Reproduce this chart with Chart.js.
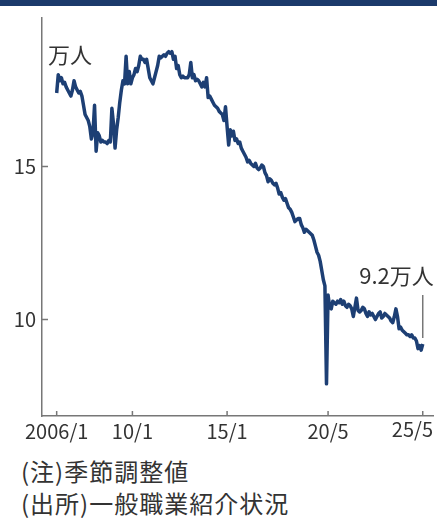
<!DOCTYPE html>
<html>
<head>
<meta charset="utf-8">
<script src="https://cdn.jsdelivr.net/npm/chart.js@4"></script>
<style>
  body { margin: 0; width: 437px; height: 519px; overflow: hidden; background: #fff; position: relative;
         font-family: 'Noto Sans CJK JP', sans-serif; color: #333; }
  #topbar { position: absolute; left: 0; top: 0; width: 437px; height: 6px; background: #1b3a6b; }
  #wrap { position: absolute; left: 0; top: 0; }
  .note { position: absolute; left: 21px; font-size: 24px; line-height: 28px; letter-spacing: 1px; white-space: nowrap; }
</style>
</head>
<body>
<div id="wrap"><canvas id="jobChart" width="452" height="452"></canvas></div>
<div id="topbar"></div>
<div class="note" style="top:457px">(注)季節調整値</div>
<div class="note" style="top:489px">(出所)一般職業紹介状況</div>
<script>
// monthly values, 万人, starting 2006/1
const values2006to2010 = [
  17.4, 18.0, 17.8, 17.9, 17.7, 17.75, 17.6, 17.5, 17.4, 17.3, 17.5, 17.8,
  17.6, 17.5, 17.4, 17.45, 17.3, 17.0, 16.7, 16.6, 16.5, 16.3, 15.9, 16.1,
  17.0, 15.5, 16.1, 16.0, 15.8, 15.85, 15.8, 15.8, 15.75, 15.85, 15.8, 16.9,
  16.4, 15.6, 16.2, 16.6, 17.1, 17.5, 17.8, 17.7, 18.6, 17.7, 18.1, 17.7,
  17.9, 18.0, 18.2, 18.1, 18.3, 18.6, 18.5, 18.5, 18.4, 18.5, 18.2, 17.9
];
const values2011to2015 = [
  17.8, 17.7, 17.9, 18.1, 18.3, 18.6, 18.55, 18.6, 18.65, 18.6, 18.7, 18.75,
  18.7, 18.75, 18.5, 18.6, 18.2, 18.3, 18.0, 17.9, 17.95, 17.9, 17.9, 17.9,
  18.0, 18.4, 17.9, 18.0, 17.8, 17.85, 17.8, 17.7, 17.6, 17.75, 17.6, 17.9,
  17.25, 17.3, 17.2, 17.1, 17.0, 16.95, 16.9, 16.8, 16.75, 16.7, 16.5, 16.95,
  16.3, 15.7, 16.2, 16.0, 16.15, 15.85, 15.9, 15.75, 15.8, 15.6, 15.5, 15.4
];
const values2016to2020 = [
  15.3, 15.15, 15.2, 15.1, 15.05, 15.0, 15.1, 14.95, 14.9, 14.95, 15.05, 15.0,
  14.8, 14.7, 14.5, 14.6, 14.55, 14.45, 14.4, 14.45, 14.3, 14.1, 14.15, 14.0,
  13.9, 13.95, 13.8, 13.65, 13.6, 13.5, 13.35, 13.2, 13.25, 13.3, 13.3, 13.1,
  13.0, 12.85, 12.95, 12.9, 12.85, 12.8, 12.75, 12.6, 12.4, 12.2, 12.1, 11.9,
  11.6, 11.3, 11.1, 7.9, 10.8, 10.4, 10.35, 10.6, 10.55, 10.5, 10.6, 10.55
];
const values2021to2025 = [
  10.65, 10.5, 10.6, 10.45, 10.4, 10.5, 10.45, 10.35, 10.1, 10.4, 10.7, 10.3,
  10.25, 10.3, 10.4, 10.35, 10.2, 10.1, 10.25, 10.15, 10.2, 10.1, 10.0, 10.1,
  10.2, 10.25, 10.05, 10.1, 10.2, 10.15, 10.1, 10.05, 9.95, 9.9, 10.1, 10.35,
  10.1, 9.7, 9.75, 9.65, 9.6, 9.55, 9.5, 9.5, 9.45, 9.5, 9.4, 9.4,
  9.3, 9.05, 9.15, 9.0, 9.2
];

const tickMonths = [0, 48, 108, 172, 232];
const tickLabels = ['2006/1', '10/1', '15/1', '20/5', '25/5'];
const yTickValues = [10, 15];
const unitLabel = '万人';
const lastLabel = '9.2万人';

const allValues = values2006to2010.concat(values2011to2015, values2016to2020, values2021to2025);
const points = allValues.map((v, i) => ({ x: i, y: v }));

const font = { family: "'Noto Sans CJK JP', sans-serif", size: 20 };

// ticks drawn inside the axes, the last x label pulled in, and the two text labels
const extras = {
  id: 'extras',
  afterDraw(chart) {
    const { ctx, chartArea, scales: { x, y } } = chart;
    ctx.save();
    ctx.strokeStyle = '#777';
    ctx.lineWidth = 1.5;
    ctx.beginPath();
    tickMonths.forEach(m => {
      const px = x.getPixelForValue(m);
      ctx.moveTo(px, chartArea.bottom);
      ctx.lineTo(px, chartArea.bottom - 5);
    });
    yTickValues.forEach(v => {
      const py = y.getPixelForValue(v);
      ctx.moveTo(chartArea.left, py);
      ctx.lineTo(chartArea.left + 6, py);
    });
    // leader to the last point
    const lastX = x.getPixelForValue(allValues.length - 1);
    ctx.moveTo(lastX, y.getPixelForValue(10.8));
    ctx.lineTo(lastX, y.getPixelForValue(9.4));
    ctx.stroke();

    ctx.fillStyle = '#333';
    ctx.textBaseline = 'top';
    ctx.textAlign = 'right';
    ctx.font = "20px 'Noto Sans CJK JP', sans-serif";
    ctx.fillText(tickLabels[tickLabels.length - 1], chartArea.right, x.top + 3);

    ctx.font = "22px 'Noto Sans CJK JP', sans-serif";
    ctx.textBaseline = 'middle';
    ctx.textAlign = 'left';
    ctx.fillText(unitLabel, chartArea.left + 6, chartArea.top + 37);
    ctx.textAlign = 'right';
    ctx.fillText(lastLabel, lastX + 11, y.getPixelForValue(11.45));
    ctx.restore();
  }
};

new Chart(document.getElementById('jobChart'), {
  type: 'line',
  data: {
    datasets: [{
      data: points,
      borderColor: '#1d3f74',
      borderWidth: 3.5,
      borderJoinStyle: 'round',
      pointRadius: 0,
      tension: 0,
      fill: false
    }]
  },
  options: {
    responsive: false,
    animation: false,
    layout: { padding: { top: 13, right: 19, left: 0, bottom: 0 } },
    plugins: { legend: { display: false }, tooltip: { enabled: false } },
    scales: {
      x: {
        type: 'linear',
        min: -9.3,
        max: 238.5,
        afterBuildTicks: s => { s.ticks = tickMonths.map(v => ({ value: v })); },
        afterFit: s => { s.height = 36; },
        grid: { display: false, drawTicks: false },
        border: { display: true, color: '#777', width: 1.5 },
        ticks: {
          autoSkip: false,
          maxRotation: 0,
          padding: 3,
          color: '#333',
          font: font,
          // last label is drawn by the plugin, right-aligned to the axis end
          callback: v => (v === tickMonths[tickMonths.length - 1] ? '' : tickLabels[tickMonths.indexOf(v)])
        }
      },
      y: {
        min: 6.85,
        max: 19.85,
        afterBuildTicks: s => { s.ticks = yTickValues.map(v => ({ value: v })); },
        afterFit: s => { s.width = 42; },
        grid: { display: false, drawTicks: false },
        border: { display: true, color: '#777', width: 1.5 },
        ticks: { padding: 6, color: '#333', font: font }
      }
    }
  },
  plugins: [extras]
});
</script>
</body>
</html>
